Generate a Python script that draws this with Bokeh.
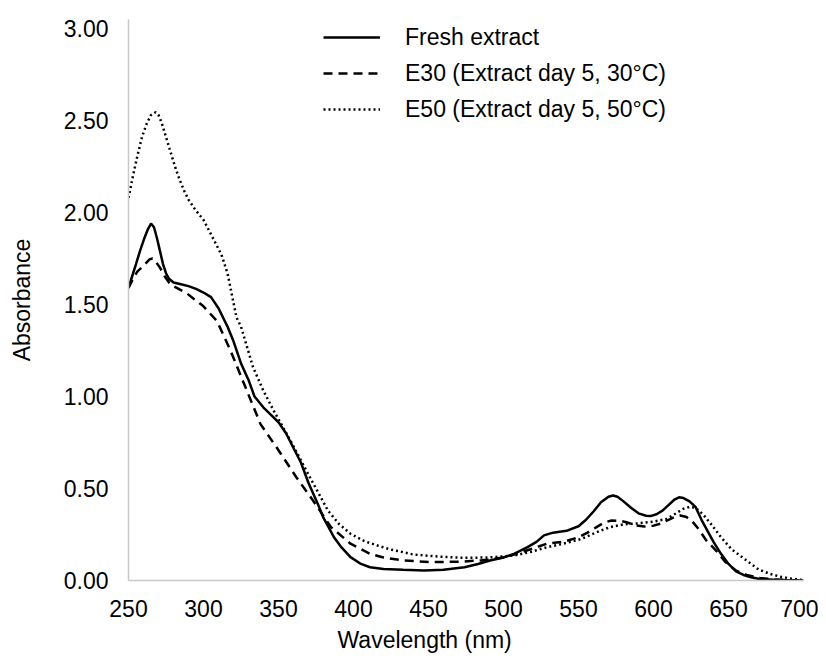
from bokeh.plotting import figure
from bokeh.models import (Range1d, FixedTicker, NumeralTickFormatter, Legend,
                          LegendItem, Title)
from bokeh.embed import file_html
from bokeh.resources import INLINE

# Fresh extract: wavelength (nm) and absorbance
fresh_nm = [250, 255, 258, 261, 263, 265, 267, 269, 271, 273, 275, 277, 280, 285,
            290, 295, 300, 305, 310, 316, 320, 325, 330, 334, 340, 345, 350, 355,
            360, 365, 370, 376, 380, 387, 392, 398, 405, 411, 420, 433, 447, 460,
            474, 483, 491, 500, 507, 516, 522, 527, 533, 542, 550, 555, 560, 565,
            570, 573, 576, 580, 585, 590, 595, 598, 602, 606, 610, 614, 617, 620,
            624, 628, 632, 636, 640, 645, 650, 655, 660, 665, 670, 680, 690, 700]
fresh_abs = [1.59, 1.72, 1.80, 1.87, 1.91, 1.94, 1.92, 1.86, 1.79, 1.72, 1.67,
             1.64, 1.62, 1.61, 1.60, 1.585, 1.565, 1.54, 1.48, 1.38, 1.30, 1.18,
             1.09, 1.00, 0.94, 0.90, 0.86, 0.80, 0.72, 0.64, 0.53, 0.42, 0.34,
             0.235, 0.18, 0.127, 0.09, 0.072, 0.062, 0.058, 0.054, 0.058, 0.072,
             0.09, 0.109, 0.125, 0.145, 0.181, 0.21, 0.245, 0.26, 0.27, 0.295,
             0.33, 0.375, 0.425, 0.455, 0.462, 0.455, 0.43, 0.395, 0.365, 0.352,
             0.35, 0.36, 0.38, 0.41, 0.44, 0.452, 0.448, 0.43, 0.40, 0.33, 0.27,
             0.21, 0.145, 0.09, 0.05, 0.03, 0.018, 0.01, 0.004, 0.002, 0.0]

# E30 (Extract day 5, 30 C)
e30_nm = [250, 253, 256, 260, 264, 266, 268, 271, 274, 277, 280, 289, 300, 309,
          318, 329, 338, 349, 362, 373, 385, 398, 411, 420, 433, 451, 470, 485,
          500, 507, 518, 529, 540, 550, 556, 562, 567, 572, 577, 582, 588, 594,
          600, 605, 610, 614, 618, 622, 626, 630, 635, 642, 648, 655, 662, 671,
          680, 690, 700]
e30_abs = [1.59, 1.64, 1.68, 1.71, 1.745, 1.75, 1.735, 1.70, 1.655, 1.62, 1.60,
           1.56, 1.49, 1.41, 1.25, 1.03, 0.85, 0.72, 0.56, 0.435, 0.29, 0.20,
           0.145, 0.125, 0.109, 0.10, 0.102, 0.109, 0.125, 0.141, 0.17, 0.20,
           0.21, 0.235, 0.26, 0.29, 0.315, 0.326, 0.325, 0.317, 0.30, 0.293,
           0.298, 0.31, 0.33, 0.345, 0.353, 0.345, 0.32, 0.28, 0.22, 0.16, 0.10,
           0.054, 0.03, 0.014, 0.006, 0.002, 0.0]

# E50 (Extract day 5, 50 C)
e50_nm = [250, 253, 256, 259, 262, 265, 268, 270, 272, 275, 278, 281, 284, 287,
          290, 295, 300, 307, 312, 316, 322, 325, 333, 340, 347, 358, 371, 383,
          390, 398, 407, 416, 425, 433, 440, 457, 474, 490, 507, 518, 529, 540,
          552, 560, 566, 571, 580, 589, 600, 609, 615, 620, 624, 628, 633, 639,
          645, 652, 662, 670, 678, 685, 692, 700]
e50_abs = [2.08, 2.20, 2.31, 2.41, 2.48, 2.53, 2.545, 2.53, 2.49, 2.41, 2.33,
           2.25, 2.18, 2.12, 2.07, 2.01, 1.96, 1.85, 1.77, 1.67, 1.43, 1.38,
           1.16, 1.03, 0.92, 0.76, 0.56, 0.38, 0.31, 0.254, 0.215, 0.19, 0.168,
           0.154, 0.141, 0.13, 0.123, 0.125, 0.136, 0.155, 0.181, 0.20, 0.226,
           0.255, 0.275, 0.29, 0.305, 0.31, 0.32, 0.335, 0.365, 0.39, 0.40,
           0.395, 0.36, 0.30, 0.235, 0.17, 0.109, 0.06, 0.035, 0.02, 0.01, 0.002]

series_names = ["Fresh extract", "E30 (Extract day 5, 30°C)", "E50 (Extract day 5, 50°C)"]
x_ticks = [250, 300, 350, 400, 450, 500, 550, 600, 650, 700]
y_ticks = [0.0, 0.5, 1.0, 1.5, 2.0, 2.5, 3.0]

FONT = "Liberation Sans"

p = figure(width=818, height=661, output_backend="svg", toolbar_location=None,
           x_range=Range1d(250, 700), y_range=Range1d(0, 3.049),
           min_border_left=128, min_border_right=15, min_border_top=19,
           min_border_bottom=81)
p.outline_line_color = None
p.xgrid.visible = False
p.ygrid.visible = False

r1 = p.line(fresh_nm, fresh_abs, line_color="black", line_width=2.5)
r2 = p.line(e30_nm, e30_abs, line_color="black", line_width=2.5, line_dash="9 6")
r3 = p.line(e50_nm, e50_abs, line_color="black", line_width=2.5, line_dash="2 3")

for ax in (p.xaxis[0], p.yaxis[0]):
    ax.axis_line_color = "#c8c8c8"
    ax.axis_line_width = 1.5
    ax.major_tick_line_color = None
    ax.minor_tick_line_color = None
    ax.major_label_text_font = FONT
    ax.major_label_text_font_size = "23px"
    ax.major_label_text_color = "black"

p.xaxis.ticker = FixedTicker(ticks=x_ticks)
p.yaxis.ticker = FixedTicker(ticks=y_ticks)
p.yaxis.formatter = NumeralTickFormatter(format="0.00")
p.xaxis.major_label_standoff = 13
p.yaxis.major_label_standoff = 14

p.yaxis.axis_label = "Absorbance"
p.yaxis.axis_label_text_font = FONT
p.yaxis.axis_label_text_font_size = "23px"
p.yaxis.axis_label_text_font_style = "normal"
p.yaxis.axis_label_text_color = "black"
p.yaxis.axis_label_standoff = 26

xtitle = Title(text="Wavelength (nm)", align="left", offset=209, standoff=11,
               text_font=FONT, text_font_size="23px", text_font_style="normal",
               text_color="black")
p.add_layout(xtitle, "below")

legend = Legend(items=[LegendItem(label=series_names[0], renderers=[r1]),
                       LegendItem(label=series_names[1], renderers=[r2]),
                       LegendItem(label=series_names[2], renderers=[r3])],
                location=(195, 453), orientation="vertical")
legend.border_line_color = None
legend.background_fill_alpha = 0
legend.padding = 0
legend.margin = 0
legend.spacing = 0
legend.glyph_width = 57
legend.glyph_height = 36
legend.label_height = 36
legend.label_standoff = 25
legend.label_text_font = FONT
legend.label_text_font_size = "23px"
legend.label_text_color = "black"
p.add_layout(legend, "center")

open("out.html", "w").write(file_html(p, INLINE))
